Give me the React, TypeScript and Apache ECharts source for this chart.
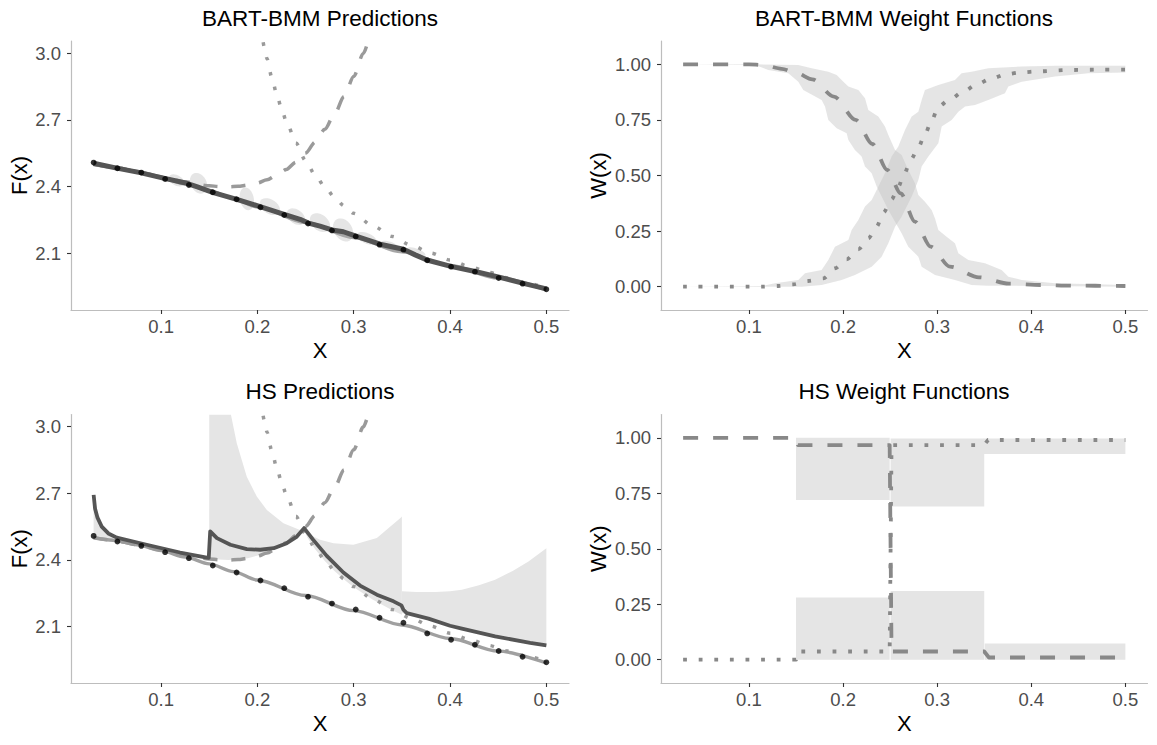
import React, { useEffect, useRef } from "react";
import * as echarts from "echarts";

// ---------- tick labels ----------
const X_TICKS = [0.1, 0.2, 0.3, 0.4, 0.5];
const F_TICKS = [2.1, 2.4, 2.7, 3.0];
const W_TICKS = [0, 0.25, 0.5, 0.75, 1];

// ---------- observed data (black points) ----------
const OBS_X = [0.03, 0.0547, 0.0795, 0.1042, 0.1289, 0.1537, 0.1784, 0.2032, 0.2279, 0.2526, 0.2774, 0.3021, 0.3268, 0.3516, 0.3763, 0.4011, 0.4258, 0.4505, 0.4753, 0.5];
const OBS_Y = [2.508, 2.4825, 2.463, 2.4345, 2.4075, 2.3745, 2.343, 2.307, 2.2725, 2.234, 2.203, 2.176, 2.139, 2.1165, 2.0685, 2.04, 2.0175, 1.989, 1.9635, 1.938];

// ---------- true function ----------
const TRUE_X = [0.03, 0.05, 0.075, 0.1, 0.125, 0.15, 0.175, 0.2, 0.25, 0.3, 0.35, 0.4, 0.45, 0.5];
const TRUE_Y = [2.4999, 2.4886, 2.4679, 2.4416, 2.413, 2.3818, 2.347, 2.3092, 2.2391, 2.1711, 2.1066, 2.0455, 1.9887, 1.9353];

// ---------- small-g expansion (dashed) ----------
const FS_X = [0.03, 0.05, 0.075, 0.1, 0.125, 0.15, 0.16, 0.17, 0.18, 0.19, 0.2, 0.21, 0.22, 0.23, 0.24, 0.25, 0.26, 0.27, 0.28, 0.29, 0.3, 0.31, 0.315];
const FS_Y = [2.5, 2.4887, 2.4685, 2.4446, 2.4213, 2.4041, 2.4004, 2.3992, 2.4011, 2.4067, 2.4164, 2.4309, 2.4509, 2.4771, 2.5101, 2.5507, 2.5997, 2.6578, 2.7259, 2.805, 2.8958, 2.9993, 3.0561];

// ---------- large-g expansion (dotted) ----------
const FL_X = [0.206, 0.2075, 0.21, 0.215, 0.22, 0.225, 0.23, 0.24, 0.25, 0.26, 0.27, 0.28, 0.29, 0.3, 0.32, 0.34, 0.36, 0.38, 0.4, 0.42, 0.44, 0.46, 0.48, 0.5];
const FL_Y = [3.049, 3.0215, 2.9751, 2.8911, 2.8172, 2.752, 2.6941, 2.5964, 2.5175, 2.4528, 2.3988, 2.3531, 2.3139, 2.2797, 2.2225, 2.1757, 2.136, 2.1011, 2.0697, 2.041, 2.0143, 1.9892, 1.9654, 1.9427];

// ---------- BART-BMM mean prediction ----------
const BMM_X = [0.03, 0.054, 0.0782, 0.1024, 0.1267, 0.137, 0.1543, 0.1786, 0.2028, 0.227, 0.2443, 0.253, 0.265, 0.2773, 0.2893, 0.3015, 0.3274, 0.3516, 0.3638, 0.376, 0.4019, 0.4261, 0.452, 0.4762, 0.5];
const BMM_Y = [2.505, 2.483, 2.463, 2.438, 2.415, 2.4, 2.373, 2.343, 2.31, 2.276, 2.253, 2.236, 2.222, 2.205, 2.197, 2.178, 2.141, 2.118, 2.093, 2.07, 2.04, 2.018, 1.992, 1.965, 1.94];

// BART-BMM credible band blobs
const BLOB_X = [0.116, 0.139, 0.189, 0.213, 0.24, 0.265, 0.289, 0.3136, 0.338, 0.365];
const BLOB_V = [2.428, 2.415, 2.345, 2.31, 2.265, 2.238, 2.205, 2.167, 2.13, 2.107];
const BLOB_HW = [0.008, 0.009, 0.0075, 0.0105, 0.0095, 0.0105, 0.0105, 0.0105, 0.0105, 0.0095];
const BLOB_HH = [0.025, 0.045, 0.05, 0.035, 0.035, 0.04, 0.05, 0.025, 0.022, 0.015];

// ---------- HS mean prediction ----------
const HS_X = [0.03, 0.0315, 0.034, 0.0384, 0.0453, 0.054, 0.0851, 0.1197, 0.1475, 0.1495, 0.151, 0.158, 0.172, 0.189, 0.203, 0.217, 0.2305, 0.241, 0.2485, 0.258, 0.272, 0.2893, 0.3066, 0.324, 0.3413, 0.3495, 0.3516, 0.3551, 0.3776, 0.4, 0.4123, 0.4468, 0.4832, 0.5];
const HS_Y = [2.693, 2.63, 2.59, 2.55, 2.519, 2.5, 2.468, 2.433, 2.41, 2.409, 2.528, 2.498, 2.468, 2.4485, 2.4455, 2.4525, 2.475, 2.505, 2.543, 2.49, 2.418, 2.343, 2.284, 2.243, 2.213, 2.195, 2.175, 2.16, 2.135, 2.103, 2.09, 2.055, 2.026, 2.0145];

// HS band segments
const HSA_UP_X = [0.03, 0.0315, 0.034, 0.0384, 0.0453, 0.05];
const HSA_UP_Y = [2.69, 2.63, 2.59, 2.55, 2.519, 2.505];
const HSA_LO_X = [0.03, 0.04, 0.05];
const HSA_LO_Y = [2.5, 2.494, 2.489];

const HSB_UP_X = [0.15, 0.1725, 0.1786, 0.189, 0.1994, 0.2098, 0.227, 0.2443, 0.2513, 0.265, 0.279, 0.2997, 0.324, 0.3482, 0.35];
const HSB_UP_Y = [3.055, 3.055, 2.925, 2.775, 2.685, 2.625, 2.565, 2.535, 2.52, 2.49, 2.475, 2.468, 2.498, 2.588, 2.595];
const HSB_LO_X = [0.15, 0.17, 0.19, 0.21, 0.23, 0.245, 0.2485, 0.252, 0.26, 0.27, 0.28, 0.29, 0.3, 0.32, 0.34, 0.35];
const HSB_LO_Y = [2.404, 2.399, 2.407, 2.431, 2.477, 2.527, 2.535, 2.5, 2.448, 2.395, 2.35, 2.311, 2.277, 2.22, 2.173, 2.153];

const HSD_UP_X = [0.35, 0.365, 0.385, 0.4, 0.4123, 0.43, 0.4468, 0.465, 0.4814, 0.5];
const HSD_UP_Y = [2.258, 2.255, 2.255, 2.258, 2.265, 2.285, 2.31, 2.35, 2.393, 2.452];
const HSD_LO_X = [0.35, 0.3551, 0.3776, 0.4, 0.4123, 0.4468, 0.4832, 0.5];
const HSD_LO_Y = [2.16, 2.155, 2.13, 2.098, 2.085, 2.05, 2.021, 2.01];

// ---------- BART-BMM weights ----------
const W1_X = [0.03, 0.1, 0.115, 0.1347, 0.15, 0.1673, 0.1903, 0.2134, 0.2311, 0.247, 0.2612, 0.2764, 0.2931, 0.3136, 0.3444, 0.3763, 0.41, 0.4436, 0.5];
const W1_Y = [1.0, 1.0, 0.997, 0.98, 0.962, 0.9325, 0.8546, 0.75, 0.6417, 0.5247, 0.4198, 0.2924, 0.18, 0.09, 0.042, 0.0135, 0.0075, 0.0045, 0.003];
const W2_X = [0.03, 0.1135, 0.131, 0.147, 0.163, 0.179, 0.1914, 0.2038, 0.2162, 0.2268, 0.2357, 0.2428, 0.2516, 0.2587, 0.2651, 0.2722, 0.28, 0.287, 0.2941, 0.3012, 0.3136, 0.3278, 0.342, 0.3579, 0.3739, 0.3898, 0.4075, 0.4394, 0.473, 0.5];
const W2_Y = [0, 0, 0.003, 0.0105, 0.0255, 0.0375, 0.0825, 0.123, 0.168, 0.2174, 0.27, 0.333, 0.393, 0.45, 0.51, 0.573, 0.627, 0.685, 0.747, 0.81, 0.8426, 0.877, 0.91, 0.937, 0.9565, 0.964, 0.9685, 0.9745, 0.976, 0.976];

const W1_HI_X = [0.03, 0.1064, 0.1524, 0.1666, 0.1843, 0.1932, 0.2003, 0.2056, 0.2162, 0.2233, 0.2268, 0.2374, 0.2445, 0.2481, 0.2552, 0.2622, 0.2693, 0.2764, 0.28, 0.287, 0.2941, 0.2977, 0.3012, 0.31, 0.3189, 0.3225, 0.3331, 0.3508, 0.3685, 0.3756, 0.3898, 0.4252, 0.5];
const W1_HI_Y = [1.0, 1.0, 0.997, 0.982, 0.967, 0.952, 0.922, 0.9, 0.885, 0.847, 0.795, 0.765, 0.72, 0.682, 0.615, 0.592, 0.525, 0.465, 0.412, 0.382, 0.345, 0.307, 0.255, 0.225, 0.195, 0.15, 0.12, 0.105, 0.075, 0.045, 0.03, 0.015, 0.0075];
const W1_LO_X = [0.03, 0.1064, 0.1205, 0.1418, 0.1524, 0.1577, 0.1772, 0.1808, 0.1843, 0.1932, 0.2038, 0.2056, 0.2126, 0.2197, 0.2233, 0.2304, 0.2357, 0.241, 0.2481, 0.2552, 0.2622, 0.2693, 0.28, 0.2835, 0.2977, 0.3189, 0.3366, 0.3543, 0.5];
const W1_LO_Y = [1.0, 0.997, 0.975, 0.96, 0.922, 0.885, 0.84, 0.81, 0.75, 0.712, 0.69, 0.66, 0.615, 0.585, 0.54, 0.51, 0.45, 0.405, 0.345, 0.292, 0.24, 0.18, 0.135, 0.09, 0.052, 0.03, 0.0075, 0.0045, 0.0];
const W2_HI_X = [0.03, 0.1135, 0.1276, 0.1524, 0.1595, 0.1772, 0.1843, 0.1914, 0.2056, 0.2091, 0.2162, 0.2233, 0.2304, 0.2357, 0.2445, 0.2516, 0.2587, 0.2658, 0.2729, 0.28, 0.2835, 0.287, 0.3012, 0.3189, 0.326, 0.3366, 0.3543, 0.3898, 0.4252, 0.5];
const W2_HI_Y = [0, 0.003, 0.015, 0.03, 0.06, 0.075, 0.12, 0.18, 0.21, 0.255, 0.3, 0.36, 0.39, 0.435, 0.51, 0.585, 0.63, 0.705, 0.765, 0.787, 0.84, 0.885, 0.907, 0.93, 0.96, 0.967, 0.982, 0.99, 0.994, 0.994];
const W2_LO_X = [0.03, 0.156, 0.1772, 0.1985, 0.2126, 0.2304, 0.241, 0.2481, 0.2552, 0.2622, 0.2729, 0.28, 0.2835, 0.2906, 0.3012, 0.3048, 0.3154, 0.3225, 0.3296, 0.3402, 0.3543, 0.372, 0.3756, 0.3898, 0.4252, 0.4606, 0.5];
const W2_LO_Y = [0, 0, 0.0075, 0.03, 0.052, 0.09, 0.135, 0.195, 0.27, 0.315, 0.405, 0.48, 0.54, 0.585, 0.645, 0.72, 0.75, 0.787, 0.81, 0.817, 0.84, 0.87, 0.9, 0.922, 0.945, 0.96, 0.963];

// ---------- HS weights ----------
const HW1_X = [0.03, 0.15, 0.152, 0.2495, 0.2515, 0.35, 0.355, 0.5];
const HW1_Y = [1, 1, 0.967, 0.967, 0.037, 0.037, 0.01, 0.01];
const HW2_X = [0.03, 0.15, 0.152, 0.2495, 0.2515, 0.35, 0.354, 0.5];
const HW2_Y = [0, 0, 0.037, 0.037, 0.967, 0.967, 0.99, 0.99];
// band rectangles: x0, x1, lower, upper
const HW1_BAND = [[0.15, 0.2495, 0.72, 1.0], [0.2505, 0.35, 0.0, 0.31], [0.3505, 0.5, 0.0, 0.073]];
const HW2_BAND = [[0.15, 0.2495, 0.0, 0.28], [0.2505, 0.35, 0.69, 0.997], [0.3495, 0.5, 0.927, 0.997]];

const FONT = '"Liberation Sans", Arial, Helvetica, sans-serif';

const zip = (xs: number[], ys: number[]) => xs.map((x, i) => [x, ys[i]]);
const bandPoly = (ux: number[], uy: number[], lx: number[], ly: number[]) =>
  zip(ux, uy).concat(zip(lx, ly).reverse());

function blobPolys() {
  const slope = -1.4;
  return BLOB_X.map((cx, i) => {
    const pts: number[][] = [];
    for (let k = 0; k < 28; k++) {
      const t = (k / 28) * Math.PI * 2;
      const dx = BLOB_HW[i] * Math.cos(t);
      pts.push([cx + dx, BLOB_V[i] + slope * dx + BLOB_HH[i] * Math.sin(t)]);
    }
    return pts;
  });
}

function rectPolys(rects: number[][]) {
  return rects.map(([x0, x1, lo, hi]) => [[x0, lo], [x1, lo], [x1, hi], [x0, hi]]);
}

function polySeries(gi: number, polys: number[][][], fill: string, opacity: number, z: number) {
  return {
    type: "custom",
    xAxisIndex: gi,
    yAxisIndex: gi,
    z,
    silent: true,
    clip: true,
    data: polys.map((p, i) => [p[0][0], p[0][1], i]),
    renderItem: (params: any, api: any) => {
      const poly = polys[params.dataIndex];
      return {
        type: "polygon",
        shape: { points: poly.map((pt) => api.coord(pt)) },
        style: { fill, opacity },
      };
    },
  };
}

function lineSeries(gi: number, data: number[][], color: string, width: number, type: any, z: number, smooth: any = false) {
  return {
    type: "line",
    xAxisIndex: gi,
    yAxisIndex: gi,
    data,
    symbol: "none",
    showSymbol: false,
    smooth,
    smoothMonotone: "x",
    lineStyle: { color, width, type, cap: "butt", join: "round" },
    z,
    silent: true,
    clip: true,
  };
}

function dotSeries(gi: number) {
  return {
    type: "scatter",
    xAxisIndex: gi,
    yAxisIndex: gi,
    data: zip(OBS_X, OBS_Y),
    symbolSize: 5.8,
    itemStyle: { color: "#000" },
    z: 10,
    silent: true,
  };
}

const GRIDS = [
  { left: 71, top: 41, width: 498, height: 269 },
  { left: 661, top: 41, width: 486.5, height: 269 },
  { left: 71, top: 414.5, width: 498, height: 268.5 },
  { left: 661, top: 414.5, width: 486.5, height: 268.5 },
];

function xAxis(gi: number) {
  return {
    type: "value",
    gridIndex: gi,
    min: 0.0065,
    max: 0.5235,
    name: "X",
    nameLocation: "middle",
    nameGap: 29,
    nameTextStyle: { fontSize: 22, color: "#000", fontFamily: FONT },
    axisLine: { show: true, onZero: false, lineStyle: { color: "#bdbdbd", width: 1.2 } },
    axisTick: { show: true, length: 4, customValues: X_TICKS, lineStyle: { color: "#333", width: 1.1 } },
    axisLabel: { customValues: X_TICKS, margin: 7, fontSize: 18.5, color: "#4d4d4d", fontFamily: FONT, formatter: (v: number) => v.toFixed(1) },
    splitLine: { show: false },
  };
}

function yAxis(gi: number, kind: "F" | "W") {
  const isF = kind === "F";
  const ticks = isF ? F_TICKS : W_TICKS;
  return {
    type: "value",
    gridIndex: gi,
    min: isF ? 1.845 : -0.105,
    max: isF ? 3.055 : 1.105,
    name: isF ? "F(x)" : "W(x)",
    nameLocation: "middle",
    nameGap: isF ? 41 : 52,
    nameTextStyle: { fontSize: 22, color: "#000", fontFamily: FONT },
    axisLine: { show: true, onZero: false, lineStyle: { color: "#bdbdbd", width: 1.2 } },
    axisTick: { show: true, length: 4, customValues: ticks, lineStyle: { color: "#333", width: 1.1 } },
    axisLabel: { customValues: ticks, margin: 10, fontSize: 18.5, color: "#4d4d4d", fontFamily: FONT, formatter: (v: number) => v.toFixed(isF ? 1 : 2) },
    splitLine: { show: false },
  };
}

function titleText(text: string, x: number, y: number) {
  return {
    type: "text",
    x,
    y,
    silent: true,
    style: { text, align: "center", verticalAlign: "middle", fontSize: 22.5, fill: "#000", fontFamily: FONT },
  };
}

export default function App() {
  const ref = useRef<HTMLDivElement>(null);
  useEffect(() => {
    if (!ref.current) return;
    const chart = echarts.init(ref.current, undefined, { renderer: "svg" });
    const BAND = "#e5e5e5";
    const PRED_GRAY = "#9a9a9a";
    const W_GRAY = "#888888";
    const DARK = "#555555";
    const series: any[] = [
      // ---- Panel 0: BART-BMM predictions ----
      polySeries(0, blobPolys(), BAND, 1, 1),
      lineSeries(0, zip(TRUE_X, TRUE_Y), "#a6a6a6", 3.5, "solid", 2, 0.3),
      lineSeries(0, zip(FS_X, FS_Y), PRED_GRAY, 3.5, [14, 14], 3, 0.3),
      lineSeries(0, zip(FL_X, FL_Y), PRED_GRAY, 3.5, [3.5, 11.8], 3, 0.3),
      lineSeries(0, zip(BMM_X, BMM_Y), DARK, 5, "solid", 4, false),
      dotSeries(0),
      // ---- Panel 1: BART-BMM weights ----
      polySeries(1, [bandPoly(W1_HI_X, W1_HI_Y, W1_LO_X, W1_LO_Y)], "#c1c1c1", 0.42, 1),
      polySeries(1, [bandPoly(W2_HI_X, W2_HI_Y, W2_LO_X, W2_LO_Y)], "#c1c1c1", 0.42, 1),
      lineSeries(1, zip(W1_X, W1_Y), W_GRAY, 3.8, [15, 15], 3, 0.3),
      lineSeries(1, zip(W2_X, W2_Y), W_GRAY, 3.8, [3.8, 11.8], 3, 0.3),
      // ---- Panel 2: HS predictions ----
      polySeries(2, [
        bandPoly(HSA_UP_X, HSA_UP_Y, HSA_LO_X, HSA_LO_Y),
        bandPoly(HSB_UP_X, HSB_UP_Y, HSB_LO_X, HSB_LO_Y),
        bandPoly(HSD_UP_X, HSD_UP_Y, HSD_LO_X, HSD_LO_Y),
      ], BAND, 1, 1),
      lineSeries(2, zip(TRUE_X, TRUE_Y), "#a0a0a0", 3.4, "solid", 2, 0.3),
      lineSeries(2, zip(FS_X, FS_Y), PRED_GRAY, 3.5, [14, 14], 3, 0.3),
      lineSeries(2, zip(FL_X, FL_Y), PRED_GRAY, 3.5, [3.5, 11.8], 3, 0.3),
      lineSeries(2, zip(HS_X, HS_Y), DARK, 3.8, "solid", 4, false),
      dotSeries(2),
      // ---- Panel 3: HS weights ----
      polySeries(3, rectPolys(HW1_BAND).concat(rectPolys(HW2_BAND)), BAND, 1, 1),
      lineSeries(3, zip(HW1_X, HW1_Y), W_GRAY, 3.8, [15, 15], 3, false),
      lineSeries(3, zip(HW2_X, HW2_Y), W_GRAY, 3.8, [3.8, 11.8], 3, false),
    ];
    chart.setOption({
      animation: false,
      backgroundColor: "#ffffff",
      textStyle: { fontFamily: FONT },
      grid: GRIDS,
      xAxis: [xAxis(0), xAxis(1), xAxis(2), xAxis(3)],
      yAxis: [yAxis(0, "F"), yAxis(1, "W"), yAxis(2, "F"), yAxis(3, "W")],
      graphic: [
        titleText("BART-BMM Predictions", 320, 18.3),
        titleText("BART-BMM Weight Functions", 904, 18.3),
        titleText("HS Predictions", 320, 391.7),
        titleText("HS Weight Functions", 904, 391.7),
      ],
      series,
    });
    return () => chart.dispose();
  }, []);
  return (
    <div
      ref={ref}
      style={{ position: "fixed", left: 0, top: 0, width: 1157, height: 745, background: "#fff" }}
    />
  );
}
